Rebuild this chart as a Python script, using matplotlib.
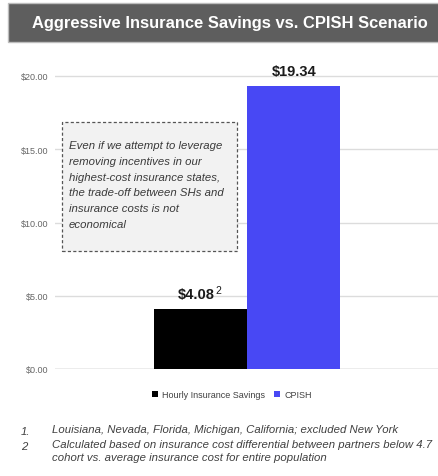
import matplotlib
matplotlib.use('Agg')
import matplotlib.pyplot as plt
from matplotlib.patches import Rectangle

# data
series = ['Hourly Insurance Savings', 'CPISH']
values = [4.08, 19.34]
labels = [r'\$4.08', r'\$19.34']
colors = ['#000000', '#4848f4']
yticks = [0, 5, 10, 15, 20]
ytick_labels = [r'\$0.00', r'\$5.00', r'\$10.00', r'\$15.00', r'\$20.00']
title = 'Aggressive Insurance Savings vs. CPISH Scenario'
callout = ('Even if we attempt to leverage\nremoving incentives in our\n'
           'highest-cost insurance states,\nthe trade-off between SHs and\n'
           'insurance costs is not\neconomical')
foot_nums = ['1.', '2']
foot_texts = ['Louisiana, Nevada, Florida, Michigan, California; excluded New York',
              'Calculated based on insurance cost differential between partners below 4.7\n'
              'cohort vs. average insurance cost for entire population']

FONT = ['Liberation Sans Narrow', 'Liberation Sans', 'DejaVu Sans']
W, H = 439, 477

fig = plt.figure(figsize=(W / 100, H / 100), dpi=100)
fig.patch.set_facecolor('white')

# title bar
fig.patches.append(Rectangle((8 / W, 1 - 43 / H), 1 - 8 / W, 39 / H,
                             transform=fig.transFigure, facecolor='#5e5e5e',
                             edgecolor='#bdbdbd', lw=1))
fig.text(230 / W, 1 - 23.5 / H, title, ha='center', va='center', color='white',
         fontsize=11.9, fontweight='bold', family=FONT)

# axes: $0 at y=370px, 14.65 px per unit, bars 93 px wide centred at 201/294
ppu = 14.65
ymax = 21
ax = fig.add_axes([55 / W, (H - 370) / H, (W - 55) / W, ymax * ppu / H])
xl = -(201 - 55) / 93.0
ax.set_xlim(xl, xl + (W - 55) / 93.0)
ax.set_ylim(0, ymax)

ax.bar([0, 1], values, width=1.0, color=colors, zorder=3)
ax.set_yticks(yticks)
ax.set_yticklabels(ytick_labels, family=FONT, fontsize=6.5, color='#666666')
ax.tick_params(axis='y', length=0, pad=5)
ax.set_xticks([])
ax.grid(axis='y', color='#dcdcdc', lw=1, zorder=0)
for s in ax.spines.values():
    s.set_visible(False)
ax.axhline(0, color='#bfbfbf', lw=1, zorder=2)

# value labels
lab0 = ax.text(-0.05, values[0] + 0.55, labels[0], ha='center', va='bottom',
               fontsize=10.5, fontweight='bold', family=FONT, color='#1a1a1a')
ax.annotate('2', xy=(1, 0.42), xycoords=lab0, xytext=(0.5, 0),
            textcoords='offset points', ha='left', va='bottom',
            fontsize=7.5, family=FONT, color='#1a1a1a')
ax.text(1, values[1] + 0.55, labels[1], ha='center', va='bottom',
        fontsize=10.5, fontweight='bold', family=FONT, color='#1a1a1a')

# callout box
fig.patches.append(Rectangle((62 / W, 1 - 252 / H), 175 / W, 129 / H,
                             transform=fig.transFigure, facecolor='#f2f2f2',
                             edgecolor='#555555', lw=0.9, ls=(0, (2.5, 1.8)),
                             zorder=5))
fig.text(69 / W, 1 - 141 / H, callout, ha='left', va='top', style='italic',
         fontsize=8.2, family=FONT, color='#3a3a3a', linespacing=1.72, zorder=6)

# legend
leg = fig.legend(handles=ax.patches, labels=series, loc='center',
                 bbox_to_anchor=(232 / W, 1 - 396 / H), ncol=2, frameon=False,
                 prop={'family': FONT, 'size': 6.5}, handlelength=0.6,
                 handleheight=0.6, handletextpad=0.5, columnspacing=1.0)
for t in leg.get_texts():
    t.set_color('#404040')

# footnotes
for num, txt, y in zip(foot_nums, foot_texts, [432, 447]):
    fig.text(21 / W, 1 - y / H, num, ha='left', va='center', style='italic',
             fontsize=8.2, family=FONT, color='#404040')
    fig.text(52 / W, 1 - (y - 6.5) / H, txt, ha='left', va='top', style='italic',
             fontsize=8.2, family=FONT, color='#404040', linespacing=1.3)

fig.savefig('out.png', dpi=100)
